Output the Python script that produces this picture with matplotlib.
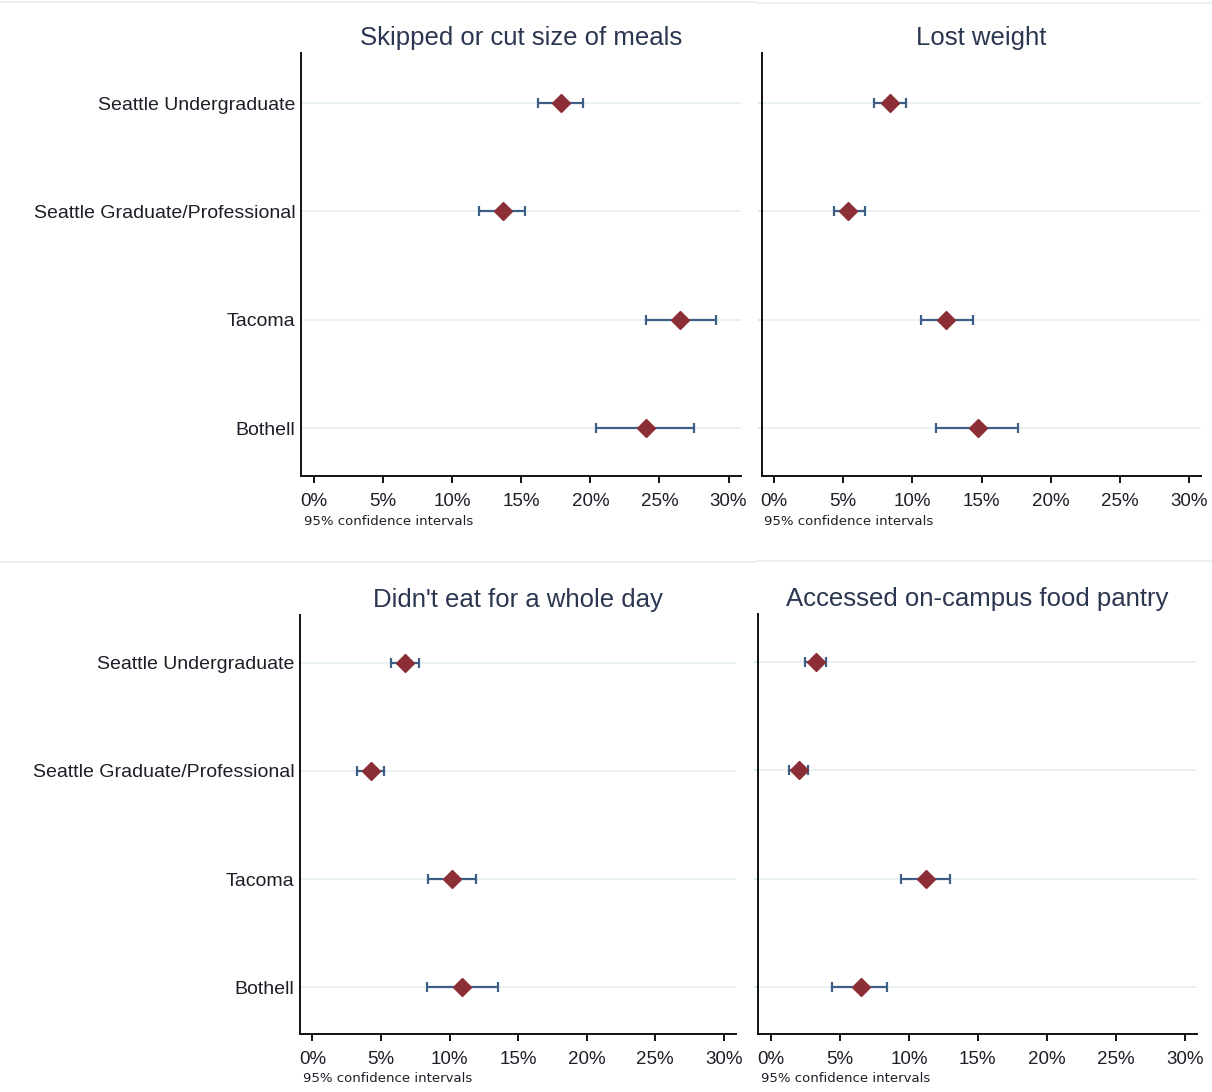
import matplotlib
matplotlib.use("Agg")
import matplotlib.pyplot as plt
from matplotlib.lines import Line2D
import numpy as np

plt.rcParams['font.family'] = ['Liberation Sans', 'DejaVu Sans']

categories = ["Seattle Undergraduate", "Seattle Graduate/Professional", "Tacoma", "Bothell"]

titles = ["Skipped or cut size of meals", "Lost weight",
          "Didn't eat for a whole day", "Accessed on-campus food pantry"]

# point estimates (%)
skipped_est = [17.85, 13.65, 26.5, 24.0]
skipped_lo = [16.2, 11.95, 24.0, 20.4]
skipped_hi = [19.5, 15.3, 29.1, 27.5]

lost_est = [8.4, 5.35, 12.45, 14.75]
lost_lo = [7.2, 4.3, 10.6, 11.7]
lost_hi = [9.55, 6.55, 14.4, 17.6]

noeat_est = [6.75, 4.3, 10.2, 10.9]
noeat_lo = [5.7, 3.25, 8.45, 8.35]
noeat_hi = [7.75, 5.25, 11.95, 13.55]

pantry_est = [3.3, 2.0, 11.25, 6.5]
pantry_lo = [2.45, 1.3, 9.4, 4.4]
pantry_hi = [4.0, 2.7, 13.0, 8.45]

xticks = [0, 5, 10, 15, 20, 25, 30]
xticklabels = ["0%", "5%", "10%", "15%", "20%", "25%", "30%"]
note = "95% confidence intervals"

W, H = 1212, 1092
fig = plt.figure(figsize=(W / 100, H / 100), dpi=100)

def rect(l, r, t, b):
    return [l / W, 1 - b / H, (r - l) / W, (b - t) / H]

panels = [
    dict(rect=rect(301, 741, 53, 476), xlim=(-0.94, 30.90), ylim=(4.443, 0.538),
         est=skipped_est, lo=skipped_lo, hi=skipped_hi, labels=True, note_xy=(304, 521)),
    dict(rect=rect(761.7, 1201, 53, 476), xlim=(-0.89, 30.85), ylim=(4.443, 0.538),
         est=lost_est, lo=lost_lo, hi=lost_hi, labels=False, note_xy=(764, 521)),
    dict(rect=rect(300, 736, 615, 1034), xlim=(-0.91, 30.90), ylim=(4.434, 0.557),
         est=noeat_est, lo=noeat_lo, hi=noeat_hi, labels=True, note_xy=(303, 1079)),
    dict(rect=rect(758, 1196.7, 614, 1034), xlim=(-0.94, 30.87), ylim=(4.434, 0.557),
         est=pantry_est, lo=pantry_lo, hi=pantry_hi, labels=False, note_xy=(761, 1078)),
]

marker_color = "#8B2E35"
err_color = "#3D5F86"
grid_color = "#E6EFF2"
text_color = "#1E1E28"
title_color = "#2B3650"

for p, title in zip(panels, titles):
    ax = fig.add_axes(p["rect"])
    y = np.arange(1, len(categories) + 1)
    est = np.array(p["est"])
    lo = np.array(p["lo"])
    hi = np.array(p["hi"])
    for yy in y:
        ax.axhline(yy, color=grid_color, lw=1.2, zorder=0)
    ax.errorbar(est, y, xerr=[est - lo, hi - est], fmt="none", ecolor=err_color,
                elinewidth=1.6, capsize=3.5, capthick=1.6, zorder=2)
    ax.plot(est, y, linestyle="none", marker="D", ms=9, color=marker_color,
            markeredgecolor=marker_color, zorder=3)
    ax.set_xlim(*p["xlim"])
    ax.set_ylim(*p["ylim"])
    ax.set_xticks(xticks)
    ax.set_xticklabels(xticklabels, fontsize=13.5, color=text_color)
    ax.set_yticks(y)
    if p["labels"]:
        ax.set_yticklabels(categories, fontsize=14, color=text_color)
        ax.tick_params(axis="y", length=0, pad=4)
    else:
        ax.set_yticklabels([""] * len(categories))
        ax.tick_params(axis="y", length=3, width=1.2, color="#C8E8F0", direction="out")
    ax.tick_params(axis="x", length=5, width=1.3, color="black", pad=7.5, direction="out")
    for s in ["top", "right"]:
        ax.spines[s].set_visible(False)
    for s in ["left", "bottom"]:
        ax.spines[s].set_linewidth(1.4)
        ax.spines[s].set_color("#111111")
    ax.set_title(title, fontsize=18.5, color=title_color, pad=6)
    nx, ny = p["note_xy"]
    fig.text(nx / W, 1 - ny / H, note, fontsize=9.5, family="DejaVu Sans",
             color=text_color, ha="left", va="center")

# separator lines between combined graphs
sep_color = "#E6ECEF"
for (x0, x1, yy) in [(0, 755, 1.5), (757, 1212, 2.5), (0, 755, 561.5), (757, 1212, 560.5)]:
    fig.add_artist(Line2D([x0 / W, x1 / W], [1 - yy / H, 1 - yy / H],
                          transform=fig.transFigure, color=sep_color, lw=1.2))

fig.savefig("out.png", dpi=100, facecolor="white")
